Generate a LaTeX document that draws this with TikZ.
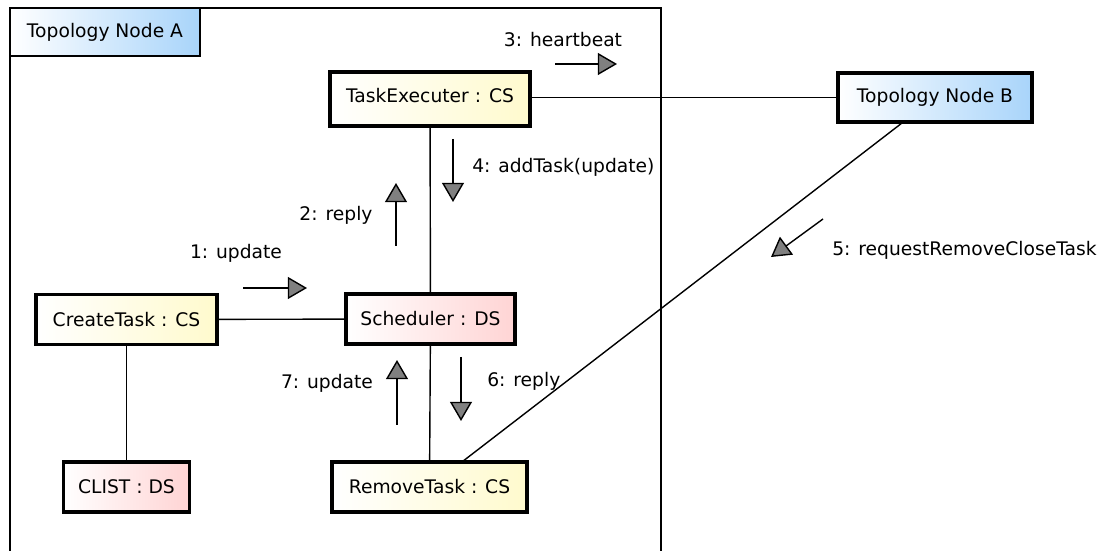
\documentclass[tikz,border=0pt]{standalone}
\usepackage{fontspec}
\setmainfont{DejaVu Sans}
\usetikzlibrary{arrows.meta, positioning}

\definecolor{csyellow}{RGB}{255,250,205}
\definecolor{dsred}{RGB}{255,212,212}
\definecolor{topoblue}{RGB}{168,212,250}

\begin{document}
\begin{tikzpicture}[
    font=\fontsize{13.3}{16}\selectfont,
    obj/.style={rectangle, draw, line width=2.2pt, minimum height=1.25cm, inner sep=0pt},
    cs/.style={obj, left color=white, right color=csyellow},
    ds/.style={obj, left color=white, right color=dsred},
    topo/.style={obj, left color=white, right color=topoblue},
    link/.style={line width=1pt},
    msg/.style={line width=1pt, -{Triangle[length=0.48cm, width=0.55cm, fill=gray]}},
    msglabel/.style={inner sep=0pt}
]
\useasboundingbox (0,0) rectangle (27.475,13.775);

% Frame of topology node A
\draw[line width=1pt] (0.25,0) -- (0.25,13.575) -- (16.525,13.575) -- (16.525,0);
\node[rectangle, draw, line width=1.2pt, left color=white, right color=topoblue, minimum width=4.75cm, minimum height=1.2cm, inner sep=0pt] (topoA) at (2.625,12.975) {Topology Node A};

% Objects
\node[cs, minimum width=5cm, minimum height=1.35cm, text depth=0.2cm] (exec) at (10.75,11.3) {TaskExecuter : CS};
\node[topo, minimum width=4.85cm, minimum height=1.225cm] (topoB) at (23.375,11.3375) {Topology Node B};
\node[cs, minimum width=4.525cm] (create) at (3.1625,5.7875) {CreateTask : CS};
\node[ds, minimum width=4.225cm] (sched) at (10.7625,5.8) {Scheduler : DS};
\node[cs, minimum width=4.875cm] (remove) at (10.7375,1.6) {RemoveTask : CS};
\node[ds, minimum width=3.15cm] (clist) at (3.1625,1.6) {CLIST : DS};

% Links
\draw[link] (exec.east |- topoB.west) -- (topoB.west);
\draw[link] (exec) -- (sched);
\draw[link] (create) -- (sched);
\draw[link] (sched) -- (remove);
\draw[link] (create) -- (clist);
\draw[link] (remove) -- (topoB);

% Messages
\coordinate (m1s) at (6.075,6.575);
\coordinate (m1e) at (7.675,6.575);
\draw[msg] (m1s) -- (m1e);
\node[msglabel] (l1) at (5.9,7.45) {1: update};

\coordinate (m2s) at (9.9,7.625);
\coordinate (m2e) at (9.9,9.2);
\draw[msg] (m2s) -- (m2e);
\node[msglabel] (l2) at (8.4,8.4) {2: reply};

\coordinate (m3s) at (13.875,12.175);
\coordinate (m3e) at (15.425,12.175);
\draw[msg] (m3s) -- (m3e);
\node[msglabel] (l3) at (14.075,12.775) {3: heartbeat};

\coordinate (m4s) at (11.325,10.3);
\coordinate (m4e) at (11.325,8.725);
\draw[msg] (m4s) -- (m4e);
\node[msglabel, anchor=west] (l4) at (11.8,9.6) {4: addTask(update)};

\coordinate (m5s) at (20.575,8.3);
\coordinate (m5e) at (19.275,7.35);
\draw[msg] (m5s) -- (m5e);
\node[msglabel, anchor=west] (l5) at (20.8,7.525) {5: requestRemoveCloseTask};

\coordinate (m6s) at (11.525,4.85);
\coordinate (m6e) at (11.525,3.25);
\draw[msg] (m6s) -- (m6e);
\node[msglabel, anchor=west] (l6) at (12.175,4.25) {6: reply};

\coordinate (m7s) at (9.925,3.15);
\coordinate (m7e) at (9.925,4.775);
\draw[msg] (m7s) -- (m7e);
\node[msglabel] (l7) at (8.175,4.2) {7: update};

\end{tikzpicture}
\end{document}
